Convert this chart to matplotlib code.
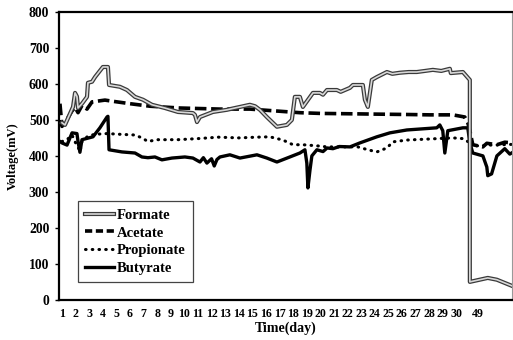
import matplotlib
matplotlib.use("Agg")
import matplotlib.pyplot as plt
from matplotlib.lines import Line2D

plt.rcParams["font.family"] = ["Liberation Serif", "DejaVu Serif"]
plt.rcParams["font.weight"] = "bold"

# category labels along the time axis and their slot positions
day_labels = [str(d) for d in range(1, 31)] + ["49"]
day_slots = list(range(1, 31)) + [31.6]

# readings, x given in category slots
formate_x = [1.0, 1.22, 1.81, 1.96, 2.10, 2.18, 2.47, 2.84, 2.91, 3.21, 3.43, 4.01, 4.38, 4.46,
             5.26, 5.78, 6.37, 6.96, 7.62, 8.57, 9.53, 10.63, 10.78, 10.93, 11.15, 12.10,
             13.13, 13.6, 14.09, 14.82, 15.2, 15.56, 16.07, 16.81, 17.54, 17.91, 18.13, 18.50,
             18.72, 19.46, 19.97, 20.2, 20.49, 21.22, 21.5, 22.18, 22.40, 23.13, 23.28, 23.50,
             23.79, 24.16, 24.90, 25.3, 25.85, 26.5, 27.10, 27.7, 28.28, 28.9, 29.53, 29.6,
             30.49, 31.0, 31.0, 32.32, 32.99, 34.16]
formate_y = [492, 486, 536, 575, 565, 533, 545, 564, 603, 606, 619, 647, 647, 597,
             592, 583, 564, 556, 542, 533, 522, 519, 514, 494, 508, 522,
             528, 532, 536, 542, 538, 528, 508, 481, 486, 500, 564, 564,
             536, 575, 575, 570, 583, 583, 578, 589, 597, 597, 556, 536,
             611, 619, 633, 628, 631, 633, 633, 636, 639, 636, 642, 630,
             633, 611, 50, 61, 56, 38]

acetate_x = [0.85, 1.0, 1.22, 1.74, 1.96, 2.18, 2.47, 2.84, 3.21, 4.16, 4.68, 6.0, 7.47,
             9.68, 12.62, 14.82, 16.66, 18.50, 20.0, 22.18, 24.16, 26.37, 28.06, 29.75,
             30.63, 30.85, 31.0, 31.22, 31.96, 32.25, 32.99, 33.57, 34.16]
acetate_y = [545, 482, 492, 525, 535, 520, 540, 530, 550, 555, 552, 545, 538,
             533, 530, 530, 525, 520, 518, 517, 516, 515, 514, 514,
             508, 492, 470, 431, 425, 435, 431, 438, 436]

propionate_x = [1.0, 1.37, 1.74, 1.96, 2.18, 2.32, 2.47, 2.91, 3.43, 4.31, 5.26, 6.37, 6.88,
                7.32, 8.0, 9.5, 11.0, 12.5, 14.0, 15.34, 16.29, 17.25, 17.99, 18.72, 19.75,
                20.5, 21.5, 22.76, 23.5, 24.16, 24.90, 25.34, 26.37, 28.06, 29.75, 30.49,
                30.85, 31.0, 31.5, 32.5, 34.16]
propionate_y = [440, 445, 458, 439, 425, 412, 440, 455, 460, 462, 460, 458, 450,
                440, 445, 445, 448, 452, 450, 452, 453, 444, 431, 431, 428,
                425, 425, 425, 417, 411, 422, 439, 444, 447, 450, 448,
                440, 425, 428, 430, 432]

butyrate_x = [0.85, 1.0, 1.37, 1.74, 2.10, 2.18, 2.32, 2.47, 3.28, 3.79, 4.31, 4.38, 4.46,
              5.41, 6.37, 6.88, 7.32, 7.84, 8.35, 9.09, 10.04, 10.63, 11.15, 11.4, 11.66,
              12.0, 12.2, 12.40, 12.62, 13.35, 14.09, 15.34, 16.07, 16.81, 17.76, 18.50,
              18.87, 19.01, 19.09, 19.24, 19.38, 19.75, 20.2, 20.5, 20.93, 21.4, 22.18,
              22.91, 24.16, 25.12, 26.37, 28.57, 28.79, 29.01, 29.16, 29.38, 30.49, 30.85,
              31.0, 31.22, 31.96, 32.25, 32.32, 32.6, 32.99, 33.57, 33.94, 34.16]
butyrate_y = [440, 436, 430, 464, 462, 440, 410, 445, 453, 478, 508, 510, 417,
              411, 408, 397, 395, 397, 389, 394, 397, 394, 383, 395, 380,
              392, 372, 390, 397, 403, 394, 403, 394, 383, 397, 408,
              417, 380, 311, 360, 400, 417, 412, 422, 420, 426, 425,
              436, 453, 464, 472, 478, 486, 470, 408, 470, 478, 478,
              436, 408, 400, 369, 345, 350, 400, 420, 405, 410]

fig = plt.figure(figsize=(5.13, 3.40), dpi=100)
ax = fig.add_axes([0.115, 0.118, 0.883, 0.847])

# Formate: grey double-stroke line
ax.plot(formate_x, formate_y, color="#3a3a3a", lw=3.0, solid_joinstyle="round", zorder=3)
ax.plot(formate_x, formate_y, color="#d8d8d8", lw=1.2, solid_joinstyle="round", zorder=4)
ax.plot(acetate_x, acetate_y, color="black", lw=2.6, dashes=(3.2, 1.3), zorder=2)
ax.plot(propionate_x, propionate_y, color="black", lw=2.2, dashes=(0.2, 2.0),
        dash_capstyle="round", zorder=2)
ax.plot(butyrate_x, butyrate_y, color="black", lw=2.4, solid_joinstyle="round", zorder=2)

ax.set_xlim(0.78, 34.1)
ax.set_ylim(0, 800)
ax.set_yticks(range(0, 801, 100))
ax.set_xticks(day_slots)
ax.set_xticklabels(day_labels)
ax.tick_params(axis="x", length=0, labelsize=8.6, pad=6)
ax.tick_params(axis="y", length=3, width=1, labelsize=9.8, pad=4, direction="out")
for lab in ax.get_xticklabels() + ax.get_yticklabels():
    lab.set_fontweight("bold")

for side in ("left", "bottom", "top"):
    ax.spines[side].set_linewidth(1.6)
ax.spines["right"].set_linewidth(0.8)
ax.spines["right"].set_color("#999999")

ax.set_ylabel("Voltage(mV)", fontsize=9, fontweight="bold", labelpad=7)
ax.set_xlabel("Time(day)", fontsize=10, fontweight="bold", labelpad=1)

formate_handle = (Line2D([], [], color="#3a3a3a", lw=3.0),
                  Line2D([], [], color="#d8d8d8", lw=1.2))
acetate_handle = Line2D([], [], color="black", lw=2.6, dashes=(2.0, 1.0))
propionate_handle = Line2D([], [], color="black", lw=2.2, dashes=(0.2, 2.0),
                           dash_capstyle="round")
butyrate_handle = Line2D([], [], color="black", lw=2.4)
leg = ax.legend([formate_handle, acetate_handle, propionate_handle, butyrate_handle],
                ["Formate", "Acetate", "Propionate", "Butyrate"],
                loc="lower left", bbox_to_anchor=(0.042, 0.062), borderaxespad=0,
                fancybox=False, edgecolor="#444444", framealpha=1, handlelength=2.0,
                handletextpad=0.15, labelspacing=0.3, borderpad=0.5,
                prop={"weight": "bold", "size": 10.5})
leg.get_frame().set_linewidth(0.9)

fig.savefig("out.png", dpi=100)
